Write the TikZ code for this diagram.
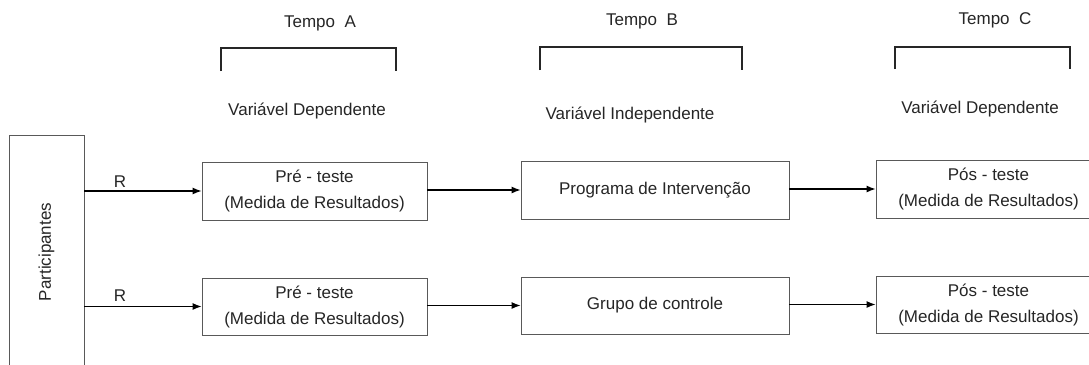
\documentclass[tikz,border=0pt]{standalone}
\usepackage{fontspec}
\setmainfont{Liberation Sans}
\usetikzlibrary{arrows.meta}
\begin{document}
\begin{tikzpicture}[x=1pt,y=-1pt,
  txt/.style={font=\fontsize{17}{20}\selectfont, text=black!85, inner sep=0pt},
  box/.style={draw=black!65, line width=0.9pt, fill=white, inner sep=0pt, align=center,
    font=\fontsize{17}{26}\selectfont, text=black!85},
  conn/.style={-{Latex[length=9pt,width=7pt]}, line width=1.1pt},
  brk/.style={line width=1.2pt, draw=black!85}]
\clip (0,0) rectangle (1089,364);
\fill[white] (0,0) rectangle (1089,364);

% headers
\node[txt] (ta) at (320,23) {Tempo\ \ A};
\node[txt] (tb) at (642,21) {Tempo\ \ B};
\node[txt] (tc) at (995,20) {Tempo\ \ C};
\draw[brk] (221,71) -- (221,48) -- (396,48) -- (396,71);
\draw[brk] (540,70) -- (540,47) -- (742,47) -- (742,70);
\draw[brk] (895,69) -- (895,47) -- (1070,47) -- (1070,69);
\node[txt] (va) at (307,111) {Variável Dependente};
\node[txt] (vb) at (630,115) {Variável Independente};
\node[txt] (vc) at (980,109) {Variável Dependente};

% participants
\node[box, minimum width=75pt, minimum height=234pt] (part) at (46.5,252) {\rotatebox{90}{Participantes}};

% boxes row 1
\node[box, minimum width=225pt, minimum height=58pt] (pa) at (314.5,191) {Pré - teste\\(Medida de Resultados)};
\node[box, minimum width=268pt, minimum height=58pt] (pb) at (655,190) {Programa de Intervenção};
\node[box, minimum width=225pt, minimum height=58pt] (pc) at (988.5,189) {Pós - teste\\(Medida de Resultados)};
% boxes row 2
\node[box, minimum width=225pt, minimum height=57pt] (qa) at (314.5,306.5) {Pré - teste\\(Medida de Resultados)};
\node[box, minimum width=268pt, minimum height=57pt] (qb) at (655,305.5) {Grupo de controle};
\node[box, minimum width=225pt, minimum height=57pt] (qc) at (988.5,304.5) {Pós - teste\\(Medida de Resultados)};

% connectors
\draw[conn] (part.east |- pa.west) -- (pa.west);
\draw[conn] (part.east |- qa.west) -- (qa.west);
\node[txt] (r1) at (120,182) {R};
\node[txt] (r2) at (120,296) {R};
\draw[conn] (pa.east |- pb.west) -- (pb.west);
\draw[conn] (pb.east |- pc.west) -- (pc.west);
\draw[conn] (qa.east |- qb.west) -- (qb.west);
\draw[conn] (qb.east |- qc.west) -- (qc.west);
\end{tikzpicture}
\end{document}
